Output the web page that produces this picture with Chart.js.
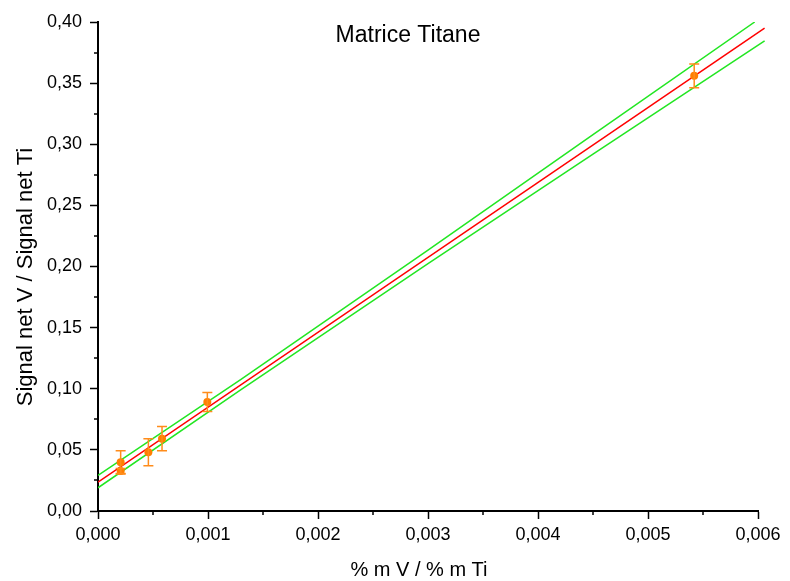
<!DOCTYPE html>
<html>
<head>
<meta charset="utf-8">
<script src="https://cdn.jsdelivr.net/npm/chart.js@4/dist/chart.umd.min.js"></script>
<style>
  html, body { margin: 0; padding: 0; background: #fff; }
</style>
</head>
<body>
<canvas id="chart" width="790" height="581"></canvas>
<script>
    // Measured points (with vertical error bars)
    const pointX = [0.000206, 0.000206, 0.000458, 0.000582, 0.000994, 0.00542];
    const pointY = [0.0398, 0.0327, 0.0480, 0.0592, 0.0892, 0.356];
    const pointErr = [0.0095, 0.002, 0.011, 0.0100, 0.0078, 0.0097];

    // Linear fit (red)
    const fitX = [0, 0.00606];
    const fitY = [0.0236, 0.3950];

    // Confidence band (green)
    const upperX = [0, 0.0013, 0.003, 0.0045, 0.00597];
    const upperY = [0.0292, 0.1076, 0.2133, 0.3079, 0.4000];
    const lowerX = [0, 0.0013, 0.003, 0.0045, 0.00606];
    const lowerY = [0.0190, 0.0992, 0.2023, 0.2919, 0.3846];

    const titleText = "Matrice Titane";
    const xTitle = "% m V / % m Ti";
    const yTitle = "Signal net V / Signal net Ti";

    const FONT = "'Liberation Sans', Arial, sans-serif";

    function toPoints(xs, ys) {
      return xs.map((x, i) => ({ x: x, y: ys[i] }));
    }

    // Error bars, minor ticks, inner title and axis titles
    const extras = {
      id: "extras",
      afterDatasetsDraw(chart) {
        const ctx = chart.ctx;
        const xs = chart.scales.x;
        const ys = chart.scales.y;
        ctx.save();
        ctx.strokeStyle = "#ff8c1a";
        ctx.lineWidth = 1.5;
        pointX.forEach((x, i) => {
          const px = xs.getPixelForValue(x);
          const top = ys.getPixelForValue(pointY[i] + pointErr[i]);
          const bot = ys.getPixelForValue(pointY[i] - pointErr[i]);
          ctx.beginPath();
          ctx.moveTo(px, top); ctx.lineTo(px, bot);
          ctx.moveTo(px - 5, top); ctx.lineTo(px + 5, top);
          ctx.moveTo(px - 5, bot); ctx.lineTo(px + 5, bot);
          ctx.stroke();
        });
        ctx.restore();
      },
      afterDraw(chart) {
        const ctx = chart.ctx;
        const area = chart.chartArea;
        const xs = chart.scales.x;
        const ys = chart.scales.y;
        ctx.save();
        ctx.strokeStyle = "#000";
        ctx.lineWidth = 1.5;
        ctx.beginPath();
        for (let v = 0.0005; v < 0.006; v += 0.001) {
          const px = Math.round(xs.getPixelForValue(v));
          ctx.moveTo(px, area.bottom); ctx.lineTo(px, area.bottom + 4);
        }
        for (let v = 0.025; v < 0.4; v += 0.05) {
          const py = Math.round(ys.getPixelForValue(v));
          ctx.moveTo(area.left, py); ctx.lineTo(area.left - 4, py);
        }
        ctx.stroke();

        ctx.fillStyle = "#000";
        ctx.textAlign = "center";

        // title inside the plot
        ctx.font = "23px " + FONT;
        ctx.textBaseline = "alphabetic";
        ctx.fillText(titleText, area.left + 310, area.top + 20);

        // x axis title
        ctx.font = "20px " + FONT;
        ctx.textBaseline = "middle";
        ctx.fillText(xTitle, area.left + 321, area.bottom + 59);

        // y axis title
        ctx.font = "22px " + FONT;
        ctx.translate(area.left - 72, area.top + 255);
        ctx.rotate(-Math.PI / 2);
        ctx.fillText(yTitle, 0, 0);
        ctx.restore();
      }
    };

    const ctx = document.getElementById("chart").getContext("2d");

    const chart = new Chart(ctx, {
      type: "scatter",
      data: {
        datasets: [
          {
            label: "data",
            data: toPoints(pointX, pointY),
            pointRadius: 4,
            pointBackgroundColor: "#ff7f00",
            pointBorderWidth: 0,
            showLine: false
          },
          {
            label: "fit",
            data: toPoints(fitX, fitY),
            showLine: true,
            borderColor: "#ff0000",
            borderWidth: 1.5,
            pointRadius: 0,
            clip: { left: 0, top: 0, right: 10, bottom: 0 }
          },
          {
            label: "upper",
            data: toPoints(upperX, upperY),
            showLine: true,
            borderColor: "#22e622",
            borderWidth: 1.5,
            pointRadius: 0,
            clip: { left: 0, top: 0, right: 10, bottom: 0 }
          },
          {
            label: "lower",
            data: toPoints(lowerX, lowerY),
            showLine: true,
            borderColor: "#22e622",
            borderWidth: 1.5,
            pointRadius: 0,
            clip: { left: 0, top: 0, right: 10, bottom: 0 }
          }
        ]
      },
      options: {
        responsive: false,
        animation: false,
        layout: { padding: { left: 0, right: 32, top: 22, bottom: 0 } },
        plugins: {
          legend: { display: false },
          tooltip: { enabled: false }
        },
        scales: {
          x: {
            type: "linear",
            min: 0,
            max: 0.006,
            afterFit: (scale) => { scale.height = 70; },
            border: { color: "#000", width: 2 },
            grid: { drawOnChartArea: false, tickLength: 8, tickWidth: 1.5, tickColor: "#000" },
            ticks: {
              stepSize: 0.001,
              padding: 5,
              color: "#000",
              font: { family: FONT, size: 18 },
              maxRotation: 0,
              callback: (v) => v.toFixed(3).replace(".", ",")
            }
          },
          y: {
            type: "linear",
            min: 0,
            max: 0.4,
            afterFit: (scale) => { scale.width = 98; },
            border: { color: "#000", width: 2 },
            grid: { drawOnChartArea: false, tickLength: 8, tickWidth: 1.5, tickColor: "#000" },
            ticks: {
              stepSize: 0.05,
              padding: 8,
              color: "#000",
              font: { family: FONT, size: 18 },
              callback: (v) => v.toFixed(2).replace(".", ",")
            }
          }
        }
      },
      plugins: [extras]
    });
</script>
</body>
</html>
